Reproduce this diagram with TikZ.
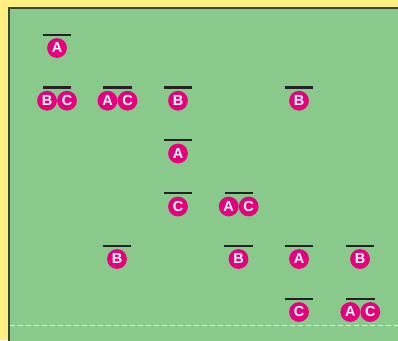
\documentclass[tikz,border=0pt]{standalone}
\usepackage{fontspec}
\setmainfont{Liberation Sans}
\definecolor{bgyellow}{RGB}{255,239,128}
\definecolor{fieldgreen}{RGB}{137,201,139}
\definecolor{edgegray}{RGB}{60,68,50}
\definecolor{ballmag}{RGB}{230,0,126}
\definecolor{barblack}{RGB}{35,35,35}
\definecolor{dashwhite}{RGB}{225,242,225}
\tikzset{
  ball/.style={circle, fill=ballmag, text=white, minimum size=19.8pt, inner sep=0pt,
    font=\bfseries\fontsize{14.5}{14.5}\selectfont},
  topbar/.style={draw=barblack, line width=2.4pt},
}
% single letter: name, x, y(center), letter
\newcommand\oneball[4]{%
  \node[ball] (#1) at (#2,#3) {#4};
  \draw[topbar] ([xshift=-14.2pt,yshift=13.3pt]#1.center) -- ([xshift=14.2pt,yshift=13.3pt]#1.center);
}
% pair: name, x center, y, letter1, letter2
\newcommand\twoball[5]{%
  \node[ball] (#1l) at (#2-10,#3) {#4};
  \node[ball] (#1r) at (#2+10,#3) {#5};
  \draw[topbar] ([xshift=-4.2pt,yshift=13.3pt]#1l.center) -- ([xshift=4.2pt,yshift=13.3pt]#1r.center);
}
\begin{document}
\begin{tikzpicture}[x=1pt,y=-1pt]
\useasboundingbox (0,0) rectangle (398,340);
\fill[bgyellow] (0,0) rectangle (398,340);
\fill[fieldgreen] (9,8) rectangle (400,342);
\draw[edgegray, line width=1.2pt] (9,342) -- (9,8) -- (400,8);
\draw[dashwhite, line width=1.6pt, dash pattern=on 5pt off 3pt] (10,325.5) -- (400,325.5);
% columns: 57, 117.5, 178, 238.5, 299, 360
% rows: 48, 100.7, 153.5, 206.5, 259, 312
\oneball{r1a}{57}{48}{A}
\twoball{r2a}{57}{100.7}{B}{C}
\twoball{r2b}{117.5}{100.7}{A}{C}
\oneball{r2c}{178}{100.7}{B}
\oneball{r2d}{299}{100.7}{B}
\oneball{r3a}{178}{153.5}{A}
\oneball{r4a}{178}{206.5}{C}
\twoball{r4b}{238.7}{206.5}{A}{C}
\oneball{r5a}{117}{259}{B}
\oneball{r5b}{238.5}{259}{B}
\oneball{r5c}{299}{259}{A}
\oneball{r5d}{360}{259}{B}
\oneball{r6a}{299}{312}{C}
\twoball{r6b}{360.3}{312}{A}{C}
\end{tikzpicture}
\end{document}
